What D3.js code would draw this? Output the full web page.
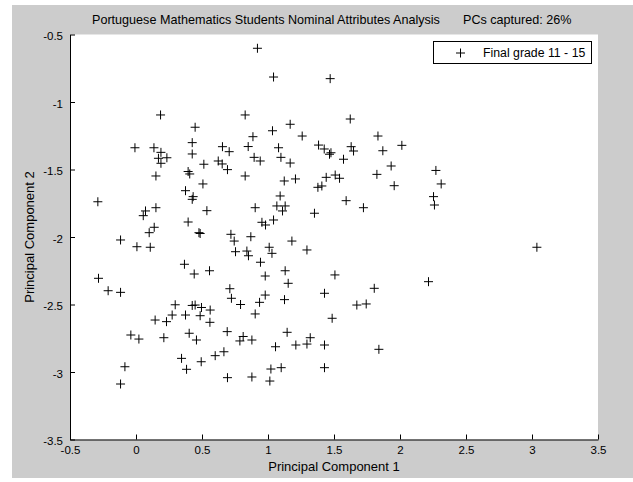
<!DOCTYPE html>
<html><head><meta charset="utf-8">
<script src="https://cdn.jsdelivr.net/npm/d3@7"></script>
<style>html,body{margin:0;padding:0;background:#fff;}svg{display:block;font-family:"Liberation Sans",Arial,sans-serif;}</style>
</head><body>
<svg id="chart" width="633" height="482"></svg>
<script>
const titleMain = "Portuguese Mathematics Students Nominal Attributes Analysis";
const titlePCs = "PCs captured: 26%";
const xLabel = "Principal Component 1";
const yLabel = "Principal Component 2";
const seriesName = "Final grade 11 - 15";
const xTicks = [-0.5, 0, 0.5, 1, 1.5, 2, 2.5, 3, 3.5];
const yTicks = [-3.5, -3, -2.5, -2, -1.5, -1, -0.5];
const pc1 = [0.186,0.827,0.448,-0.008,0.136,0.426,0.655,0.706,0.189,0.170,0.234,0.189,0.426,0.514,0.623,0.653,0.693,0.395,0.407,0.850,
0.920,1.042,1.471,1.623,1.168,1.034,0.886,1.259,1.833,2.014,1.080,1.383,1.426,1.477,1.466,1.630,1.648,1.870,0.895,0.941,1.098,1.168,1.572,1.933,
2.272,0.151,0.827,0.507,0.375,0.433,0.426,-0.289,0.151,0.072,0.055,0.537,0.395,0.138,0.100,0.477,0.486,0.719,0.744,-0.117,0.007,0.108,0.754,
0.367,0.441,0.557,-0.284,-0.211,-0.117,0.711,0.723,0.792,0.297,0.426,0.448,0.496,0.562,
1.123,1.208,1.441,1.509,1.542,1.825,1.956,1.378,1.408,1.092,1.592,1.723,0.903,1.067,1.130,1.110,1.352,0.954,0.981,1.042,0.870,1.181,0.840,0.852,
1.009,1.030,1.295,0.943,1.130,0.979,1.153,1.507,1.805,1.428,0.979,0.936,1.125,1.673,1.744,
2.312,2.254,2.261,3.037,2.216,
0.145,0.231,0.274,0.375,0.486,0.560,-0.039,0.022,0.211,0.403,0.458,0.691,0.787,0.812,0.345,0.383,0.494,0.600,0.666,-0.084,-0.117,0.693,
0.903,1.486,0.878,1.145,1.057,1.211,1.295,1.320,1.428,1.840,1.022,1.100,1.428,0.878,1.014];
const pc2 = [-1.096,-1.096,-1.187,-1.339,-1.339,-1.301,-1.331,-1.368,-1.373,-1.417,-1.413,-1.454,-1.385,-1.461,-1.437,-1.459,-1.501,-1.515,-1.533,-1.330,
-0.602,-0.815,-0.827,-1.126,-1.165,-1.213,-1.257,-1.252,-1.252,-1.321,-1.339,-1.319,-1.348,-1.376,-1.387,-1.331,-1.363,-1.361,-1.410,-1.437,-1.410,-1.452,-1.424,-1.474,
-1.507,-1.548,-1.548,-1.607,-1.657,-1.701,-1.721,-1.739,-1.783,-1.807,-1.842,-1.805,-1.889,-1.928,-1.968,-1.968,-1.974,-1.980,-2.030,-2.022,-2.072,-2.076,-2.109,
-2.202,-2.274,-2.250,-2.306,-2.398,-2.410,-2.383,-2.454,-2.500,-2.502,-2.507,-2.504,-2.522,-2.541,
-1.585,-1.570,-1.558,-1.541,-1.565,-1.536,-1.620,-1.632,-1.622,-1.696,-1.731,-1.783,-1.783,-1.770,-1.770,-1.807,-1.824,-1.891,-1.911,-1.874,-1.998,-2.030,-2.104,-2.139,
-2.076,-2.121,-2.096,-2.187,-2.250,-2.289,-2.343,-2.281,-2.380,-2.417,-2.430,-2.484,-2.464,-2.504,-2.496,
-1.607,-1.701,-1.763,-2.076,-2.331,
-2.615,-2.627,-2.578,-2.578,-2.583,-2.632,-2.726,-2.756,-2.746,-2.713,-2.763,-2.701,-2.770,-2.737,-2.899,-2.980,-2.924,-2.879,-2.850,-2.961,-3.089,-3.042,
-2.570,-2.602,-2.763,-2.706,-2.813,-2.800,-2.793,-2.746,-2.800,-2.832,-2.978,-2.968,-2.968,-3.037,-3.067];

const svg = d3.select("#chart");
const W = 633, H = 482;
const m = {left: 70, right: 598, top: 34.5, bottom: 439.5};

svg.append("rect").attr("x", 12).attr("y", 5).attr("width", W - 12).attr("height", 473).attr("fill", "#cccccc");
svg.append("rect").attr("x", m.left).attr("y", m.top).attr("width", m.right - m.left).attr("height", m.bottom - m.top).attr("fill", "#ffffff");

const x = d3.scaleLinear().domain([-0.5, 3.5]).range([m.left, m.right]);
const y = d3.scaleLinear().domain([-3.5, -0.5]).range([m.bottom, m.top]);

const xAxis = svg.append("g").attr("transform", `translate(0,${m.bottom})`)
  .call(d3.axisBottom(x).tickValues(xTicks).tickFormat(d => String(d)).tickSizeInner(-5).tickSizeOuter(0).tickPadding(6));
const yAxis = svg.append("g").attr("transform", `translate(${m.left},0)`)
  .call(d3.axisLeft(y).tickValues(yTicks).tickFormat(d => String(d)).tickSizeInner(-5).tickSizeOuter(0).tickPadding(7));
[xAxis, yAxis].forEach(g => {
  g.select(".domain").attr("stroke", "#000").attr("stroke-width", 1);
  g.selectAll(".tick line").attr("stroke", "#000");
  g.selectAll(".tick text").attr("font-size", 11.5).attr("fill", "#000").attr("font-family", "'Liberation Sans', Arial, sans-serif");
});
xAxis.selectAll(".tick text").attr("dy", "0.71em");
yAxis.selectAll(".tick text").attr("dy", "0.45em");

const pts = pc1.map((v, i) => [v, pc2[i]]);
const s = 4.5;
svg.append("g").selectAll("path").data(pts).join("path")
  .attr("d", d => `M${x(d[0]) - s},${y(d[1])}H${x(d[0]) + s}M${x(d[0])},${y(d[1]) - s}V${y(d[1]) + s}`)
  .attr("stroke", "#000").attr("stroke-width", 1).attr("fill", "none");

// title
svg.append("text").attr("x", 92).attr("y", 24).attr("font-size", 12.6).text(titleMain);
svg.append("text").attr("x", 463).attr("y", 24).attr("font-size", 12.6).text(titlePCs);
svg.append("text").attr("x", (m.left + m.right) / 2).attr("y", 471).attr("text-anchor", "middle").attr("font-size", 13).text(xLabel);
svg.append("text").attr("transform", `translate(34,${(m.top + m.bottom) / 2}) rotate(-90)`).attr("text-anchor", "middle").attr("font-size", 13).text(yLabel);

// legend
const lg = svg.append("g");
lg.append("rect").attr("x", 433.5).attr("y", 41.5).attr("width", 158).attr("height", 22).attr("fill", "#fff").attr("stroke", "#000");
lg.append("path").attr("d", `M${460.5 - s},53H${460.5 + s}M460.5,${53 - s}V${53 + s}`).attr("stroke", "#000").attr("fill", "none");
lg.append("text").attr("x", 483).attr("y", 57).attr("font-size", 12.3).text(seriesName);
</script>
</body></html>
